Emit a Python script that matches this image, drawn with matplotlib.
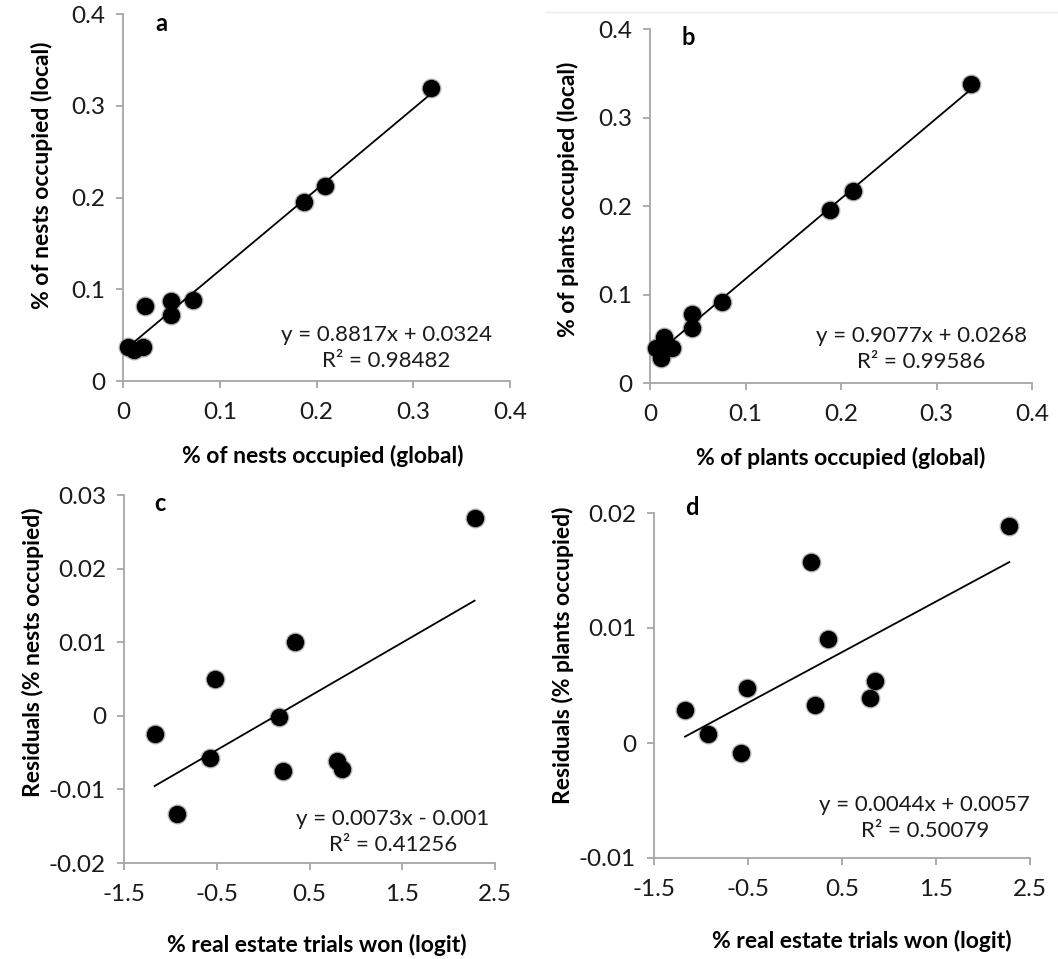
import matplotlib
matplotlib.use("Agg")
import matplotlib.pyplot as plt
from matplotlib.lines import Line2D

plt.rcParams['font.family'] = ['Lato', 'DejaVu Sans']

# panel a: nests, global vs local
nests_global = [0.005, 0.011, 0.021, 0.023, 0.050, 0.050, 0.072, 0.187, 0.209, 0.318]
nests_local = [0.037, 0.034, 0.037, 0.082, 0.087, 0.072, 0.088, 0.195, 0.212, 0.319]
# panel b: plants, global vs local
plants_global = [0.006, 0.011, 0.015, 0.023, 0.044, 0.044, 0.075, 0.189, 0.213, 0.336]
plants_local = [0.040, 0.028, 0.052, 0.040, 0.078, 0.062, 0.092, 0.195, 0.217, 0.338]
# panels c, d: residuals vs real estate trials won (logit)
trials_logit = [-1.17, -0.93, -0.575, -0.514, 0.167, 0.213, 0.346, 0.80, 0.85, 2.28]
resid_nests = [-0.0025, -0.0133, -0.0058, 0.0050, -0.0002, -0.0075, 0.0100, -0.0061, -0.0072, 0.0269]
resid_plants = [0.0029, 0.0008, -0.0009, 0.0048, 0.01575, 0.0033, 0.00905, 0.0039, 0.0054, 0.0189]

fits = {
    'a': (0.8817, 0.0324, "y = 0.8817x + 0.0324\nR² = 0.98482"),
    'b': (0.9077, 0.0268, "y = 0.9077x + 0.0268\nR² = 0.99586"),
    'c': (0.0073, -0.001, "y = 0.0073x - 0.001\nR² = 0.41256"),
    'd': (0.0044, 0.0057, "y = 0.0044x + 0.0057\nR² = 0.50079"),
}

W, H = 1058, 959
fig = plt.figure(figsize=(W / 100, H / 100), dpi=100)


def px_axes(left, top, right, bottom):
    return fig.add_axes([left / W, 1 - bottom / H, (right - left) / W, (bottom - top) / H])


def style_panel(ax, xlim, ylim, xticks, yticks, xlabels, ylabels):
    ax.set_xlim(xlim)
    ax.set_ylim(ylim)
    ax.set_xticks(xticks)
    ax.set_yticks(yticks)
    ax.set_xticklabels(xlabels)
    ax.set_yticklabels(ylabels)
    for s in ['top', 'right']:
        ax.spines[s].set_visible(False)
    for s in ['left', 'bottom']:
        ax.spines[s].set_color('#a6a6a6')
        ax.spines[s].set_linewidth(1.3)
    ax.tick_params(direction='out', length=5, width=1.3, color='#a6a6a6',
                   labelsize=17.5, labelcolor='#1a1a1a')
    ax.tick_params(axis='x', pad=10)
    ax.tick_params(axis='y', pad=8)
    ax.patch.set_alpha(0)


def draw_points(ax, x, y, key):
    ax.plot(x, y, 'o', ms=13.5, color='#9a9a9a', alpha=0.6, zorder=3, clip_on=False)
    ax.plot(x, y, 'o', ms=11.5, color='black', zorder=4, clip_on=False)
    slope, icpt, txt = fits[key]
    x0, x1 = min(x), max(x)
    ax.plot([x0, x1], [slope * x0 + icpt, slope * x1 + icpt], color='black', lw=1.3, zorder=5)
    return txt


panels = [
    ('a', (123, 14, 510, 381), nests_global, nests_local, (0, 0.4), (0, 0.4),
     [0, 0.1, 0.2, 0.3, 0.4], [0, 0.1, 0.2, 0.3, 0.4],
     ['0', '0.1', '0.2', '0.3', '0.4'], ['0', '0.1', '0.2', '0.3', '0.4'],
     '% of nests occupied (global)', '% of nests occupied (local)',
     (0.68, 0.09), (0.10, 0.975), (0.515, -0.174), (-0.18, 0.56)),
    ('b', (650, 29, 1032, 383), plants_global, plants_local, (0, 0.4), (0, 0.4),
     [0, 0.1, 0.2, 0.3, 0.4], [0, 0.1, 0.2, 0.3, 0.4],
     ['0', '0.1', '0.2', '0.3', '0.4'], ['0', '0.1', '0.2', '0.3', '0.4'],
     '% of plants occupied (global)', '% of plants occupied (local)',
     (0.71, 0.096), (0.10, 0.975), (0.50, -0.18), (-0.187, 0.52)),
    ('c', (124, 495, 495, 863), trials_logit, resid_nests, (-1.5, 2.5), (-0.02, 0.03),
     [-1.5, -0.5, 0.5, 1.5, 2.5], [-0.02, -0.01, 0, 0.01, 0.02, 0.03],
     ['-1.5', '-0.5', '0.5', '1.5', '2.5'], ['-0.02', '-0.01', '0', '0.01', '0.02', '0.03'],
     '% real estate trials won (logit)', 'Residuals (% nests occupied)',
     (0.725, 0.084), (0.097, 0.978), (0.52, -0.193), (-0.216, 0.573)),
    ('d', (654, 513, 1030, 858), trials_logit, resid_plants, (-1.5, 2.5), (-0.01, 0.02),
     [-1.5, -0.5, 0.5, 1.5, 2.5], [-0.01, 0, 0.01, 0.02],
     ['-1.5', '-0.5', '0.5', '1.5', '2.5'], ['-0.01', '0', '0.01', '0.02'],
     '% real estate trials won (logit)', 'Residuals (% plants occupied)',
     (0.72, 0.116), (0.10, 1.017), (0.553, -0.209), (-0.213, 0.588)),
]

for (key, box, x, y, xlim, ylim, xt, yt, xtl, ytl, xlab, ylab,
     eq_pos, let_pos, xlab_pos, ylab_pos) in panels:
    ax = px_axes(*box)
    style_panel(ax, xlim, ylim, xt, yt, xtl, ytl)
    txt = draw_points(ax, x, y, key)
    ax.text(eq_pos[0], eq_pos[1], txt, transform=ax.transAxes, ha='center', va='center',
            multialignment='center', fontsize=16, color='#1a1a1a', linespacing=1.4)
    ax.text(let_pos[0], let_pos[1], key, transform=ax.transAxes, ha='center', va='center',
            fontsize=17, fontweight='bold')
    ax.set_xlabel(xlab, fontsize=16.5, fontweight='bold')
    ax.set_ylabel(ylab, fontsize=16.5, fontweight='bold')
    ax.xaxis.set_label_coords(*xlab_pos)
    ax.yaxis.set_label_coords(*ylab_pos)

# faint frame edge from the original layout
fig.add_artist(Line2D([545 / W, 1], [1 - 12 / H, 1 - 12 / H], color='#ececec', lw=1))

fig.savefig('out.png', dpi=100)
